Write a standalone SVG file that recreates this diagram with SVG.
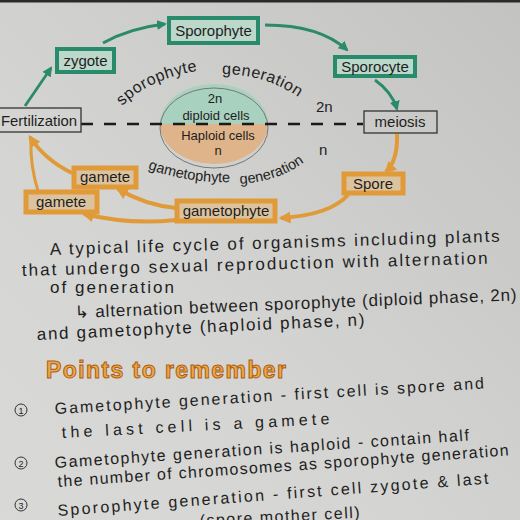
<svg xmlns="http://www.w3.org/2000/svg" width="520" height="520" viewBox="0 0 520 520">
<defs>
<linearGradient id="paper" x1="1" y1="0" x2="0" y2="1">
<stop offset="0" stop-color="#c3c3c1"/>
<stop offset="0.6" stop-color="#d4d4d2"/>
<stop offset="1" stop-color="#d9d9d7"/>
</linearGradient>
<marker id="ah-teal" viewBox="0 0 10 10" refX="8" refY="5" markerWidth="10" markerHeight="10" markerUnits="userSpaceOnUse" orient="auto">
<path d="M0,0 L10,5 L0,10 z" fill="#2a8a6c"/>
</marker>
<marker id="ah-orange" viewBox="0 0 10 10" refX="8" refY="5" markerWidth="12" markerHeight="12" markerUnits="userSpaceOnUse" orient="auto">
<path d="M0,0 L10,5 L0,10 z" fill="#e09a38"/>
</marker>
<path id="arcTopL" d="M 122 106 Q 150 78 202 70"/>
<path id="arcTopR" d="M 222 74 Q 265 74 300 98"/>
<path id="arcBotL" d="M 146 168 Q 188 184 236 182"/>
<path id="arcBotR" d="M 240 184 Q 284 181 312 156"/>
</defs>
<style>
text{font-family:"Liberation Sans","DejaVu Sans",sans-serif;fill:#1e1e1e}
.node{font-size:15px}
.teal{fill:#bcd8cb;stroke:#2a8a6c;stroke-width:4}
.orange{fill:#dcc3a0;stroke:#e09a38;stroke-width:5}
.plain{fill:none;stroke:#333;stroke-width:1.3}
.ct{fill:none;stroke:#2a8a6c;stroke-width:2.8;marker-end:url(#ah-teal)}
.co{fill:none;stroke:#e09a38;stroke-width:4;marker-end:url(#ah-orange)}
.note{font-size:17px}
.pt{font-size:16px}
.num{fill:none;stroke:#333;stroke-width:1}
.cell{font-size:13px}
.gen{font-size:16px;letter-spacing:0.6px}
.gen2{font-size:14.5px}
</style>
<rect x="0" y="0" width="520" height="520" fill="url(#paper)"/>
<rect x="0" y="0" width="520" height="2.5" fill="#2a2a2a"/>

<g id="center">
<path d="M 160 124 A 54 40 0 0 1 268 124 Z" fill="#a9d1bf"/>
<path d="M 160 124 A 54 40 0 0 0 268 124 Z" fill="#dfb48a"/>
<ellipse cx="214" cy="128" rx="54" ry="40" fill="none" stroke="#777" stroke-width="1"/>
<text class="cell" x="215" y="103" text-anchor="middle">2n</text>
<text class="cell" x="216" y="120" text-anchor="middle">diploid cells</text>
<text class="cell" x="218" y="140" text-anchor="middle">Haploid cells</text>
<text class="cell" x="218" y="155" text-anchor="middle">n</text>
</g>

<g id="connectors">
<line x1="81" y1="124" x2="363" y2="124" stroke="#1a1a1a" stroke-width="2.5" stroke-dasharray="12 11"/>
<path class="ct" d="M 25 106 L 51 68"/>
<path class="ct" d="M 103 43 Q 130 28 165 24"/>
<path class="ct" d="M 265 25 Q 320 25 347 50"/>
<path class="ct" d="M 375 80 Q 392 92 397 109"/>
<path class="co" d="M 397 134 Q 398 160 386 172"/>
<path class="co" d="M 348 195 Q 330 215 281 218"/>
<path class="co" d="M 176 208 Q 145 205 118 189"/>
<path class="co" d="M 176 220 Q 130 225 84 214"/>
<path class="co" d="M 72 173 Q 45 160 30 137"/>
<path d="M 38 191 Q 30 165 31 140" fill="none" stroke="#e09a38" stroke-width="3"/>
</g>

<g id="sporophyte">
<rect class="teal" x="169" y="18" width="89" height="25"/>
<text class="node" x="213.5" y="36" text-anchor="middle">Sporophyte</text>
</g>
<g id="zygote">
<rect class="teal" x="57" y="49" width="57" height="23"/>
<text class="node" x="85.5" y="66" text-anchor="middle">zygote</text>
</g>
<g id="sporocyte">
<rect class="teal" x="335" y="57" width="80" height="19"/>
<text class="node" x="375" y="72" text-anchor="middle">Sporocyte</text>
</g>
<g id="fertilization">
<rect class="plain" x="-5" y="108" width="86" height="24"/>
<text class="node" x="1" y="126" textLength="76" lengthAdjust="spacingAndGlyphs">Fertilization</text>
</g>
<g id="meiosis">
<rect class="plain" x="364" y="111" width="73" height="22"/>
<text class="node" x="400" y="127" text-anchor="middle">meiosis</text>
</g>
<g id="spore">
<rect class="orange" x="344" y="174" width="59" height="19"/>
<text class="node" x="373" y="189" text-anchor="middle">Spore</text>
</g>
<g id="gametophyte">
<rect class="orange" x="177" y="201" width="98" height="20"/>
<text class="node" x="226" y="216" text-anchor="middle">gametophyte</text>
</g>
<g id="gamete1">
<rect class="orange" x="74" y="168" width="62" height="19"/>
<text class="node" x="105" y="182" text-anchor="middle">gamete</text>
</g>
<g id="gamete2">
<rect class="orange" x="26" y="192" width="71" height="20"/>
<text class="node" x="61" y="207" text-anchor="middle">gamete</text>
</g>

<g id="labels">
<text class="gen"><textPath href="#arcTopL">sporophyte</textPath></text>
<text class="gen"><textPath href="#arcTopR">generation</textPath></text>
<text x="316" y="112" style="font-size:15px">2n</text>
<text class="gen2"><textPath href="#arcBotL" startOffset="2">gametophyte</textPath></text>
<text class="gen2"><textPath href="#arcBotR">generation</textPath></text>
<text x="319" y="155" style="font-size:15px">n</text>
</g>

<g id="paragraph">
<text class="note" x="50" y="255" textLength="450" lengthAdjust="spacing" transform="rotate(-1.7 50 255)">A typical life cycle of organisms including plants</text>
<text class="note" x="22" y="276" textLength="466" lengthAdjust="spacing" transform="rotate(-1.5 22 276)">that undergo sexual reproduction with alternation</text>
<text class="note" x="50" y="293" textLength="124" lengthAdjust="spacing">of generation</text>
<text class="note" x="75" y="318" textLength="442" lengthAdjust="spacing" transform="rotate(-2.3 75 318)">↳ alternation between sporophyte (diploid phase, 2n)</text>
<text class="note" x="37" y="340" textLength="328" lengthAdjust="spacing" transform="rotate(-2.6 37 340)">and gametophyte (haploid phase, n)</text>
</g>

<g id="points">
<text x="46" y="378" textLength="240" lengthAdjust="spacing" style="font-size:23px;font-weight:bold;fill:#eaa84c;stroke:#b0600f;stroke-width:1">Points to remember</text>

<circle class="num" cx="21" cy="410" r="6"/>
<text x="21" y="413.5" text-anchor="middle" style="font-size:9px">1</text>
<text class="pt" x="55" y="414" textLength="430" lengthAdjust="spacing" transform="rotate(-3.4 55 414)">Gametophyte generation - first cell is spore and</text>
<text class="pt" x="62" y="438" textLength="268" lengthAdjust="spacing" transform="rotate(-3 62 438)">the last cell is a gamete</text>

<circle class="num" cx="21" cy="463" r="6"/>
<text x="21" y="466.5" text-anchor="middle" style="font-size:9px">2</text>
<text class="pt" x="55" y="468" textLength="415" lengthAdjust="spacing" transform="rotate(-3.8 55 468)">Gametophyte generation is haploid - contain half</text>
<text class="pt" x="58" y="487" textLength="452" lengthAdjust="spacing" transform="rotate(-4 58 487)">the number of chromosomes as sporophyte generation</text>

<circle class="num" cx="21" cy="505" r="6"/>
<text x="21" y="508.5" text-anchor="middle" style="font-size:9px">3</text>
<text class="pt" x="58" y="516" textLength="432" lengthAdjust="spacing" transform="rotate(-4.3 58 516)">Sporophyte generation - first cell zygote &amp; last</text>
<text class="pt" x="200" y="526" textLength="160" lengthAdjust="spacing" transform="rotate(-3 200 526)">(spore mother cell)</text>
</g>
</svg>
